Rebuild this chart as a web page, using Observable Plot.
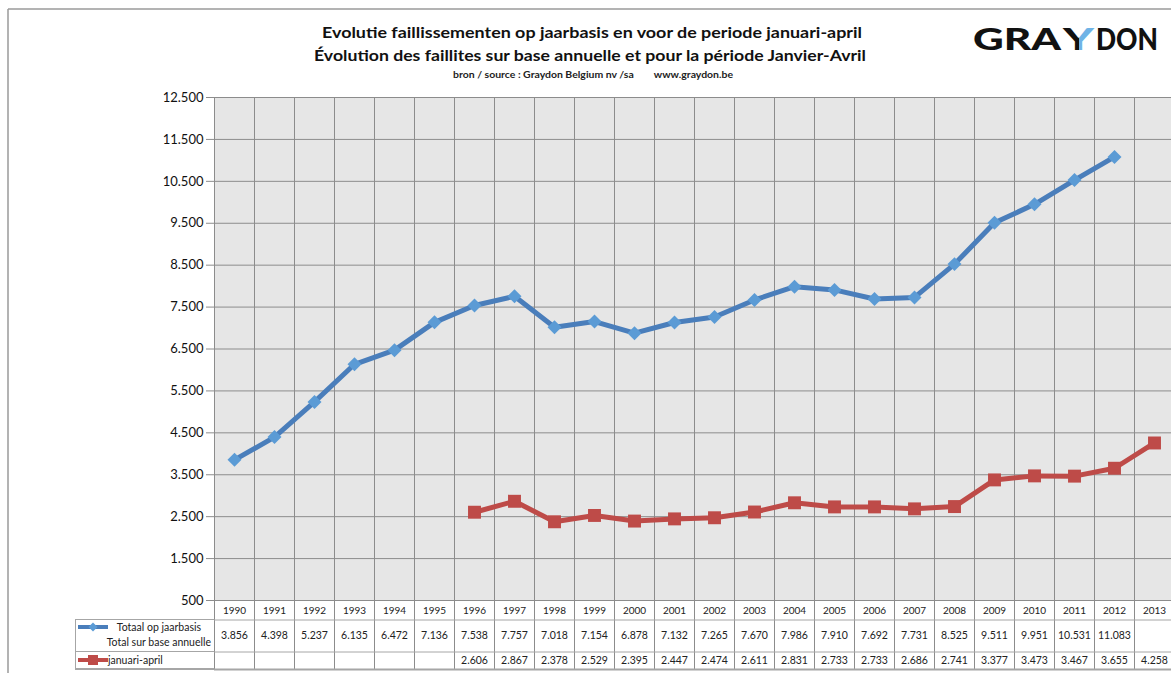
<!DOCTYPE html>
<html>
<head>
<meta charset="utf-8">
<script src="https://cdn.jsdelivr.net/npm/d3@7"></script>
<script src="https://cdn.jsdelivr.net/npm/@observablehq/plot@0.6"></script>
<style>
  html, body { margin: 0; padding: 0; background: #fff; }
  body { width: 1171px; height: 673px; overflow: hidden; font-family: Lato, "Liberation Sans", sans-serif; }
  #wrap { position: relative; width: 1171px; height: 673px; overflow: hidden; }
  #chart { position: absolute; left: 0; top: 0; width: 1176px; height: 673px; }
  #chart svg { max-width: none !important; }
  .overlay { position: absolute; left: 0; top: 0; pointer-events: none; }
</style>
</head>
<body>
<div id="wrap">
  <div id="chart"></div>
  <svg class="overlay" width="1171" height="673" id="deco">
    <defs>
      <linearGradient id="ygrad" x1="0" y1="0" x2="1" y2="0">
        <stop offset="0" stop-color="#111"/>
        <stop offset="0.5" stop-color="#111"/>
        <stop offset="0.5" stop-color="#6fb3e6"/>
        <stop offset="1" stop-color="#6fb3e6"/>
      </linearGradient>
    </defs>
    <line x1="8" y1="9" x2="1171" y2="9" stroke="#9a9a9a" stroke-width="1.5"/>
    <line x1="8" y1="9" x2="8" y2="673" stroke="#9a9a9a" stroke-width="1.5"/>
    <text x="592" y="38" text-anchor="middle" font-size="16" font-weight="700" fill="#111" textLength="540" lengthAdjust="spacingAndGlyphs">Evolutie faillissementen op jaarbasis en voor de periode januari-april</text>
    <text x="590" y="61" text-anchor="middle" font-size="16" font-weight="700" fill="#111" textLength="552" lengthAdjust="spacingAndGlyphs">Évolution des faillites sur base annuelle et pour la période Janvier-Avril</text>
    <text x="593" y="78" text-anchor="middle" font-size="9" font-weight="700" fill="#222" xml:space="preserve" textLength="280" lengthAdjust="spacingAndGlyphs">bron / source : Graydon Belgium nv /sa        www.graydon.be</text>
    <g font-size="30" font-weight="900" font-family="Lato, 'Liberation Sans', sans-serif">
      <text x="973" y="50" fill="#111" textLength="88" lengthAdjust="spacingAndGlyphs">GRA</text>
      <text x="1063" y="50" fill="url(#ygrad)" textLength="31" lengthAdjust="spacingAndGlyphs">Y</text>
      <text x="1127" y="50" text-anchor="middle" fill="#111" textLength="62" lengthAdjust="spacingAndGlyphs">DON</text>
    </g>
    <!-- legend cell of data table -->
    <g stroke="#a6a6a6" stroke-width="1">
      <line x1="75" y1="619.5" x2="214" y2="619.5"/>
      <line x1="75" y1="651.5" x2="214" y2="651.5"/>
      <line x1="75" y1="669" x2="214" y2="669" stroke-width="2"/>
      <line x1="75.5" y1="619" x2="75.5" y2="670"/>
    </g>
    <line x1="78" y1="627" x2="108" y2="627" stroke="#4a7ebb" stroke-width="4"/>
    <path d="M93,622.5 L97.5,627 L93,631.5 L88.5,627 Z" fill="#5b9bd5"/>
    <text x="201" y="631" text-anchor="end" font-size="10.5" fill="#222">Totaal op jaarbasis</text>
    <text x="211" y="646" text-anchor="end" font-size="10.5" fill="#222">Total sur base annuelle</text>
    <line x1="78" y1="660" x2="108" y2="660" stroke="#be4b48" stroke-width="4"/>
    <rect x="88" y="655" width="10" height="10" fill="#be4b48"/>
    <text x="108" y="664" font-size="10.5" fill="#222">januari-april</text>
  </svg>
</div>
<script>
// ---- data ----
const years = [1990, 1991, 1992, 1993, 1994, 1995, 1996, 1997, 1998, 1999, 2000, 2001,
               2002, 2003, 2004, 2005, 2006, 2007, 2008, 2009, 2010, 2011, 2012, 2013];
const totaal = [3856, 4398, 5237, 6135, 6472, 7136, 7538, 7757, 7018, 7154, 6878, 7132,
                7265, 7670, 7986, 7910, 7692, 7731, 8525, 9511, 9951, 10531, 11083, null];
const janApr = [null, null, null, null, null, null, 2606, 2867, 2378, 2529, 2395, 2447,
                2474, 2611, 2831, 2733, 2733, 2686, 2741, 3377, 3473, 3467, 3655, 4258];
const yTicks = [500, 1500, 2500, 3500, 4500, 5500, 6500, 7500, 8500, 9500, 10500, 11500, 12500];

// ---- layout ----
const W = 1176, H = 673, mTop = 97, mLeft = 214, mRight = 2, mBottom = 0;
const plotBottomPx = 600;                 // pixel of y = 500
const unitsPerPx = (12500 - 500) / (plotBottomPx - mTop);
const u = px => 500 - (px - plotBottomPx) * unitsPerPx;   // pixel -> y value
const yMin = u(H - mBottom);

const fmt = d3.formatLocale({decimal: ",", thousands: ".", grouping: [3], currency: ["", "€"]}).format(",d");

const rowsT = years.map((y, i) => ({year: y, v: totaal[i]})).filter(d => d.v != null);
const rowsJ = years.map((y, i) => ({year: y, v: janApr[i]})).filter(d => d.v != null);
const bounds = years.map(y => y - 0.5).concat([years[years.length - 1] + 0.5]);
const x0 = bounds[0], x1 = bounds[bounds.length - 1];

const blue = "#4a7ebb", blueMk = "#5b9bd5", red = "#be4b48";

const chart = Plot.plot({
  width: W, height: H,
  marginTop: mTop, marginLeft: mLeft, marginRight: mRight, marginBottom: mBottom,
  style: {background: "transparent", fontFamily: "Lato, 'Liberation Sans', sans-serif", overflow: "visible", maxWidth: "none"},
  x: {domain: [x0, x1], axis: null},
  y: {domain: [yMin, 12500], axis: null},
  marks: [
    Plot.rect([0], {x1: x0, x2: x1, y1: 500, y2: 12500, fill: "#e6e6e6"}),
    Plot.ruleY(yTicks, {stroke: "#8c8c8c", strokeWidth: 1}),
    Plot.ruleX(bounds, {y1: u(669), y2: 12500, stroke: "#8c8c8c", strokeWidth: 1}),
    Plot.ruleY([u(619.5), u(651.5)], {stroke: "#a6a6a6", strokeWidth: 1}),
    Plot.ruleY([u(669)], {stroke: "#a6a6a6", strokeWidth: 2}),
    Plot.line(rowsT, {x: "year", y: "v", stroke: blue, strokeWidth: 5}),
    Plot.dot(rowsT, {x: "year", y: "v", symbol: "diamond2", r: 6.3, fill: blueMk, stroke: "none"}),
    Plot.line(rowsJ, {x: "year", y: "v", stroke: red, strokeWidth: 5}),
    Plot.dot(rowsJ, {x: "year", y: "v", symbol: "square", r: 7.3, fill: red, stroke: "none"}),
    Plot.text(years, {x: d => d, y: u(610), text: d => String(d), fontSize: 10, fill: "#222"}),
    Plot.text(rowsT, {x: "year", y: u(635), text: d => fmt(d.v), fontSize: 10.5, fill: "#222"}),
    Plot.text(rowsJ, {x: "year", y: u(660.5), text: d => fmt(d.v), fontSize: 10.5, fill: "#222"}),
    Plot.axisY(yTicks, {tickFormat: fmt, tickSize: 8, tickPadding: 3, fontSize: 13, stroke: "#8c8c8c", fill: "#111", label: null})
  ]
});
document.getElementById("chart").appendChild(chart);
</script>
</body>
</html>
